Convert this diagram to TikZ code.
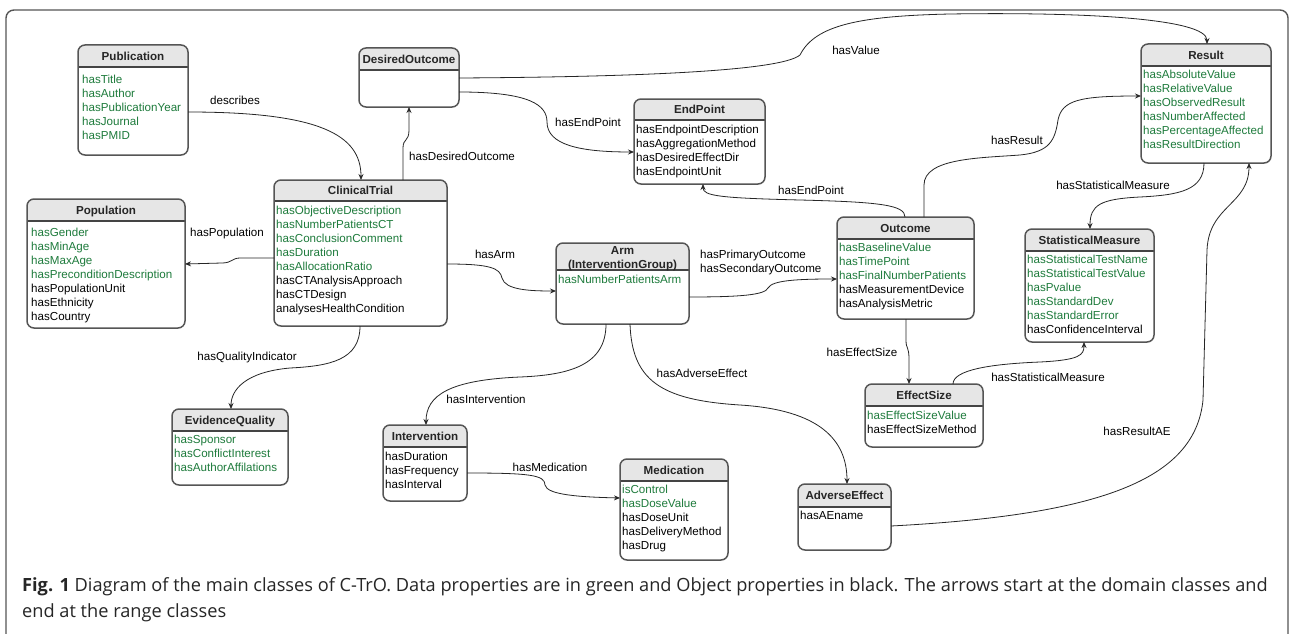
\documentclass[tikz,border=0pt]{standalone}
\usepackage{fontspec}
\setmainfont{Liberation Sans}
\newfontfamily\capfont{Open Sans}
\usetikzlibrary{arrows.meta}
\definecolor{dgreen}{HTML}{1E7B3C}
\definecolor{bordc}{HTML}{555555}
\definecolor{hdrc}{HTML}{E6E6E6}
\newcommand{\gr}[1]{\textcolor{dgreen}{#1}}
\tikzset{
  boxnode/.style={rectangle, inner sep=0pt, outer sep=0pt, fill=white},
  boxline/.style={draw=bordc, line width=1.5pt, rounded corners=7pt},
  sepline/.style={draw=bordc!80!black, line width=2.2pt},
  titletext/.style={anchor=base, inner sep=0pt, font=\fontsize{11.6}{14}\selectfont\bfseries, text=black!85},
  bodytext/.style={anchor=north west, inner sep=0pt, align=left, font=\fontsize{11.6}{14}\selectfont},
  elabel/.style={inner sep=0pt, font=\fontsize{11.6}{14}\selectfont, text height=8.4pt, text depth=0pt},
  conn/.style={draw=black!85, line width=0.8pt, -{Stealth[length=6pt,width=5pt]}},
  captext/.style={anchor=base west, inner sep=0pt, font=\capfont\fontsize{18.2}{25}\selectfont, text=black!85},
}
\newcommand{\umlbox}[9]{%
  \pgfmathsetmacro{\ubw}{#4-#2}%
  \pgfmathsetmacro{\ubh}{#5-#3}%
  \pgfmathsetmacro{\ubcx}{(#2+#4)/2}%
  \pgfmathsetmacro{\ubcy}{(#3+#5)/2}%
  \pgfmathsetmacro{\ubty}{(#3+#6)/2+4.2}%
  \node[boxnode, minimum width=\ubw pt, minimum height=\ubh pt] (#1) at (\ubcx,\ubcy) {};
  \begin{scope}
    \clip[rounded corners=7pt] (#2,#3) rectangle (#4,#5);
    \fill[hdrc] (#2,#3) rectangle (#4,#6);
  \end{scope}
  \draw[sepline] (#2,#6) -- (#4,#6);
  \draw[boxline] (#2,#3) rectangle (#4,#5);
  \node[titletext] (#1-t) at (\ubcx,\ubty) {#9};
  \xdef\ubx{#7}\xdef\uby{#8}%
}
\newcommand{\umlbody}[2]{\node[bodytext] (#1-b) at (\ubx,\uby-4.3) {#2};}
\begin{document}
\begin{tikzpicture}[x=1pt,y=-1pt]
\useasboundingbox (0,0) rectangle (1290,634);
\clip (0,0) rectangle (1290,634);
\fill[white] (0,0) rectangle (1290,634);
% frame
\draw[bordc, line width=1.4pt, rounded corners=8pt] (6,660) -- (6,10) -- (1288,10) -- (1288,660);

% classes
\umlbox{pub}{78}{45}{188}{155}{67}{82}{79}{Publication}
\umlbody{pub}{\gr{hasTitle}\\\gr{hasAuthor}\\\gr{hasPublicationYear}\\\gr{hasJournal}\\\gr{hasPMID}}

\umlbox{des}{359}{48}{459}{107}{70}{361}{80}{DesiredOutcome}

\umlbox{ct}{274}{180}{447}{326}{201}{276}{210}{ClinicalTrial}
\umlbody{ct}{\gr{hasObjectiveDescription}\\\gr{hasNumberPatientsCT}\\\gr{hasConclusionComment}\\\gr{hasDuration}\\\gr{hasAllocationRatio}\\hasCTAnalysisApproach\\hasCTDesign\\analysesHealthCondition}

\umlbox{popu}{27}{199}{185}{328}{221}{31}{232}{Population}
\umlbody{popu}{\gr{hasGender}\\\gr{hasMinAge}\\\gr{hasMaxAge}\\\gr{hasPreconditionDescription}\\hasPopulationUnit\\hasEthnicity\\hasCountry}

\umlbox{ep}{634}{99}{765}{184}{120}{636}{129}{EndPoint}
\umlbody{ep}{hasEndpointDescription\\hasAggregationMethod\\hasDesiredEffectDir\\hasEndpointUnit}

\umlbox{res}{1141}{44}{1271}{163}{66}{1143}{74}{Result}
\umlbody{res}{\gr{hasAbsoluteValue}\\\gr{hasRelativeValue}\\\gr{hasObservedResult}\\\gr{hasNumberAffected}\\\gr{hasPercentageAffected}\\\gr{hasResultDirection}}

\umlbox{arm}{556}{243}{689}{324}{270}{558}{279}{}
\node[titletext] (arm-t1) at (622.5,254.2) {Arm};
\node[titletext] (arm-t2) at (622.5,268.2) {(InterventionGroup)};
\umlbody{arm}{\gr{hasNumberPatientsArm}}

\umlbox{out}{837}{217}{974}{319}{239}{839}{247}{Outcome}
\umlbody{out}{\gr{hasBaselineValue}\\\gr{hasTimePoint}\\\gr{hasFinalNumberPatients}\\hasMeasurementDevice\\hasAnalysisMetric}

\umlbox{sm}{1025}{229}{1154}{342}{251}{1027}{259}{StatisticalMeasure}
\umlbody{sm}{\gr{hasStatisticalTestName}\\\gr{hasStatisticalTestValue}\\\gr{hasPvalue}\\\gr{hasStandardDev}\\\gr{hasStandardError}\\hasConfidenceInterval}

\umlbox{es}{865}{384}{983}{447}{406}{867}{415}{EffectSize}
\umlbody{es}{\gr{hasEffectSizeValue}\\hasEffectSizeMethod}

\umlbox{eq}{172}{409}{288}{485}{431}{174}{439}{EvidenceQuality}
\umlbody{eq}{\gr{hasSponsor}\\\gr{hasConflictInterest}\\\gr{hasAuthorAffilations}}

\umlbox{int}{383}{425}{467}{501}{447}{385}{456}{Intervention}
\umlbody{int}{hasDuration\\hasFrequency\\hasInterval}

\umlbox{med}{620}{459}{728}{560}{481}{622}{489}{Medication}
\umlbody{med}{\gr{isControl}\\\gr{hasDoseValue}\\hasDoseUnit\\hasDeliveryMethod\\hasDrug}

\umlbox{ae}{798}{484}{891}{550}{507}{800}{515}{AdverseEffect}
\umlbody{ae}{hasAEname}

% connectors
\draw[conn] (pub.east |- 0,112) .. controls (320,112) and (361,135) .. (ct.north -| 361,0);
\node[elabel] (l-desc) at (235,100) {describes};

\draw[conn] (ct.north -| 403,0) -- (403,148) .. controls (403,138) and (409,142) .. (409,130) -- (des.south -| 409,0);
\node[elabel, anchor=west] (l-hdo) at (409,156) {hasDesiredOutcome};

\draw[conn] (des.east |- 0,78) .. controls (620,77) and (780,72) .. (800,55) .. controls (815,25) and (860,16) .. (950,14) .. controls (1080,12) and (1207,18) .. (res.north -| 1207,0);
\node[elabel] (l-val) at (856,50) {hasValue};

\draw[conn] (des.east |- 0,92) .. controls (530,92) and (547,105) .. (547,122) .. controls (547,145) and (580,152) .. (ep.west |- 0,152);
\node[elabel] (l-ep1) at (588,122) {hasEndPoint};

\draw[conn] (out.north -| 905,0) .. controls (905,205) and (880,202) .. (800,200) .. controls (720,198) and (703,196) .. (ep.south -| 703,0);
\node[elabel] (l-ep2) at (811,190) {hasEndPoint};

\draw[conn] (out.north -| 924,0) -- (924,185) .. controls (924,158) and (980,158) .. (1020,155) .. controls (1050,152) and (1055,140) .. (1058,120) .. controls (1062,100) and (1080,96) .. (res.west |- 0,96);
\node[elabel] (l-res) at (1017,140) {hasResult};

\draw[conn] (res.south -| 1204,0) .. controls (1204,190) and (1180,195) .. (1140,197) .. controls (1100,199) and (1090,205) .. (sm.north -| 1090,0);
\node[elabel] (l-sm1) at (1113,185) {hasStatisticalMeasure};

\draw[conn] (ae.east |- 0,526) .. controls (1100,515) and (1195,480) .. (1203,400) -- (1207,250) .. controls (1209,205) and (1249,205) .. (res.south -| 1249,0);
\node[elabel] (l-rae) at (1137,431) {hasResultAE};

\draw[conn] (out.south -| 906,0) -- (906,340) .. controls (906,350) and (909,345) .. (909,360) -- (es.north -| 909,0);
\node[elabel] (l-es) at (862,352) {hasEffectSize};

\draw[conn] (es.north -| 953,0) .. controls (953,370) and (990,364) .. (1040,362) .. controls (1080,360) and (1084,355) .. (sm.south -| 1084,0);
\node[elabel] (l-sm2) at (1048,377) {hasStatisticalMeasure};

\draw[conn] (arm.east |- 0,297) .. controls (740,297) and (765,295) .. (768,288) .. controls (772,280) and (800,279) .. (out.west |- 0,279);
\node[elabel, anchor=west] (l-po) at (700,254) {hasPrimaryOutcome};
\node[elabel, anchor=west] (l-so) at (700,268) {hasSecondaryOutcome};

\draw[conn] (ct.east |- 0,264) .. controls (490,264) and (500,268) .. (502,278) .. controls (505,290) and (530,291) .. (arm.west |- 0,291);
\node[elabel] (l-arm) at (495,254) {hasArm};

\draw[conn] (ct.west |- 0,258) -- (240,258) .. controls (232,258) and (232,263) .. (222,263) -- (popu.east |- 0,264);
\node[elabel] (l-pop) at (227,232) {hasPopulation};

\draw[conn] (ct.south -| 360,0) .. controls (360,360) and (330,366) .. (290,368) .. controls (245,372) and (231,390) .. (eq.north -| 231,0);
\node[elabel] (l-qi) at (247,356) {hasQualityIndicator};

\draw[conn] (arm.south -| 606,0) .. controls (606,365) and (570,375) .. (520,377) .. controls (450,380) and (426,395) .. (int.north -| 426,0);
\node[elabel] (l-int) at (486,399) {hasIntervention};

\draw[conn] (arm.south -| 630,0) .. controls (632,380) and (660,400) .. (740,405) .. controls (820,410) and (847,440) .. (ae.north -| 847,0);
\node[elabel] (l-ae) at (702,373) {hasAdverseEffect};

\draw[conn] (int.east |- 0,473) .. controls (530,473) and (545,475) .. (545,485) .. controls (547,495) and (580,497) .. (med.west |- 0,498);
\node[elabel] (l-med) at (550,467) {hasMedication};

% caption
\node[captext] (cap1) at (22,591) {\textbf{Fig. 1} Diagram of the main classes of C-TrO. Data properties are in green and Object properties in black. The arrows start at the domain classes and};
\node[captext] (cap2) at (22,617) {end at the range classes};
\end{tikzpicture}
\end{document}
